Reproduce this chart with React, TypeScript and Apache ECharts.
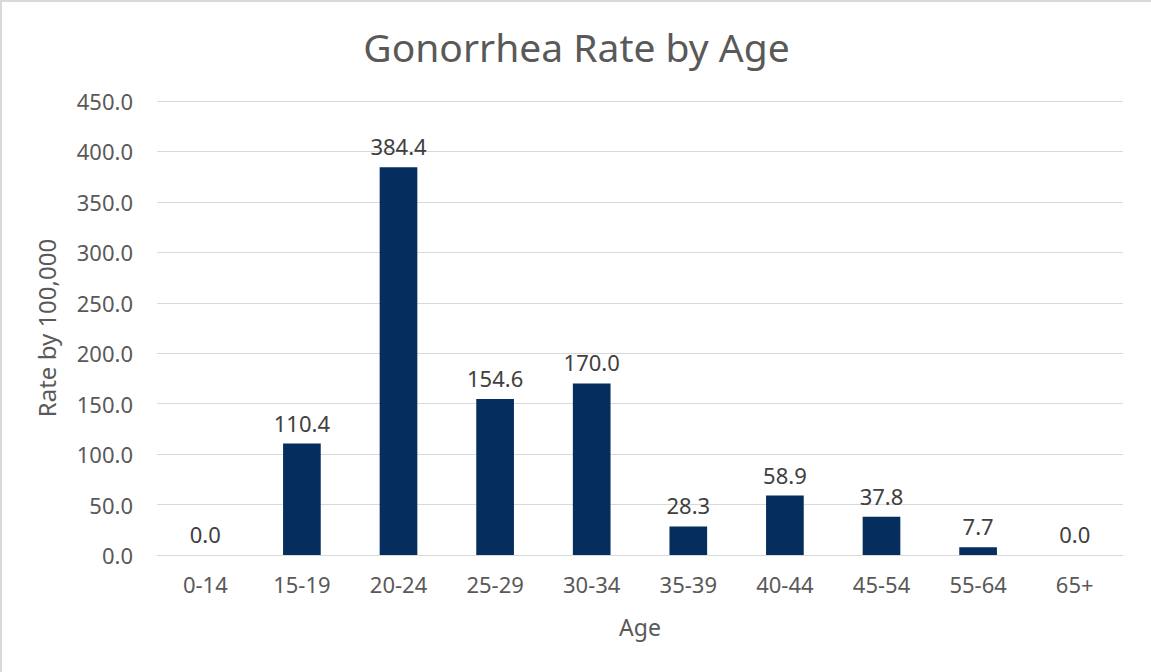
import React, { useEffect, useRef } from "react";
import * as echarts from "echarts";

const categories = ["0-14", "15-19", "20-24", "25-29", "30-34", "35-39", "40-44", "45-54", "55-64", "65+"];
const rates = [0.0, 110.4, 384.4, 154.6, 170.0, 28.3, 58.9, 37.8, 7.7, 0.0];

const FONT = "'Noto Sans', sans-serif";

export default function App() {
  const ref = useRef<HTMLDivElement>(null);
  useEffect(() => {
    document.body.style.margin = "0";
    const chart = echarts.init(ref.current!, undefined, { renderer: "svg" });
    chart.setOption({
      animation: false,
      backgroundColor: "#ffffff",
      textStyle: { fontFamily: FONT },
      title: {
        text: "Gonorrhea Rate by Age",
        left: "center",
        top: 20,
        textStyle: { fontSize: 39, fontWeight: "normal", color: "#595959", fontFamily: FONT },
      },
      grid: { left: 155, right: 28, top: 99, bottom: 117 },
      xAxis: {
        type: "category",
        data: categories,
        name: "Age",
        nameLocation: "middle",
        nameGap: 60,
        nameTextStyle: { fontSize: 23, color: "#595959", fontFamily: FONT },
        axisLine: { show: true, lineStyle: { color: "#d9d9d9", width: 1 } },
        axisTick: { show: false },
        axisLabel: { fontSize: 22, color: "#595959", margin: 18, fontFamily: FONT },
      },
      yAxis: {
        type: "value",
        min: 0,
        max: 450,
        interval: 50,
        name: "Rate by 100,000",
        nameLocation: "middle",
        nameGap: 99,
        nameRotate: 90,
        nameTextStyle: { fontSize: 24, color: "#595959", fontFamily: FONT },
        axisLine: { show: false },
        axisTick: { show: false },
        splitLine: { lineStyle: { color: "#d9d9d9", width: 1 } },
        axisLabel: {
          fontSize: 22,
          color: "#595959",
          margin: 24,
          fontFamily: FONT,
          formatter: (v: number) => v.toFixed(1),
        },
      },
      series: [
        {
          type: "bar",
          data: rates,
          barWidth: "39%",
          itemStyle: { color: "#052d5e" },
          label: {
            show: true,
            position: "top",
            distance: 10,
            fontSize: 22,
            color: "#404040",
            fontFamily: FONT,
            formatter: (p: any) => Number(p.value).toFixed(1),
          },
        },
      ],
    });
    return () => chart.dispose();
  }, []);
  return (
    <div
      ref={ref}
      style={{
        position: "absolute",
        left: 0,
        top: 0,
        width: 1151,
        height: 672,
        boxSizing: "border-box",
        borderTop: "2px solid #d9d9d9",
        borderLeft: "2px solid #d9d9d9",
      }}
    />
  );
}
